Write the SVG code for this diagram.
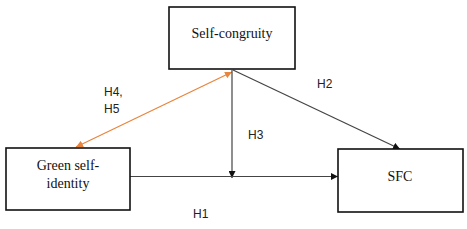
<svg xmlns="http://www.w3.org/2000/svg" width="467" height="229" viewBox="0 0 467 229">
<style>
.box{fill:#fff;stroke:#111;stroke-width:1.6}
.t{font-family:"Liberation Serif",serif;font-size:14px;fill:#111;text-anchor:middle}
.l{font-family:"Liberation Sans",sans-serif;font-size:12px;fill:#222}
.c{fill:none;stroke:#444;stroke-width:1.2}
.o{fill:none;stroke:#e8843c;stroke-width:1.2}
</style>
<defs>
<marker id="ah" viewBox="0 0 10 10" refX="10" refY="5" markerWidth="7" markerHeight="7" orient="auto-start-reverse" markerUnits="userSpaceOnUse"><path d="M0,0L10,5L0,10z" fill="#111"/></marker>
<marker id="ao" viewBox="0 0 10 10" refX="10" refY="5" markerWidth="7" markerHeight="7" orient="auto-start-reverse" markerUnits="userSpaceOnUse"><path d="M0,0L10,5L0,10z" fill="#e8843c"/></marker>
</defs>
<g id="connectors">
<line class="o" x1="232" y1="72" x2="76" y2="147" marker-start="url(#ao)" marker-end="url(#ao)"/>
<line class="c" x1="232" y1="70" x2="232" y2="178" marker-end="url(#ah)"/>
<line class="c" x1="130" y1="176.5" x2="338" y2="176.5" marker-end="url(#ah)"/>
<line class="c" x1="233" y1="70" x2="400" y2="149" marker-end="url(#ah)"/>
<text class="l" x="104" y="96">H4,</text>
<text class="l" x="104" y="113">H5</text>
<text class="l" x="317" y="88">H2</text>
<text class="l" x="248" y="139">H3</text>
<text class="l" x="193" y="218">H1</text>
</g>
<g id="self-congruity">
<rect class="box" x="169" y="7" width="126" height="62"/>
<text class="t" x="232" y="38">Self-congruity</text>
</g>
<g id="green-self-identity">
<rect class="box" x="6" y="148" width="124" height="62"/>
<text class="t" x="68" y="170">Green self-</text>
<text class="t" x="68" y="188">identity</text>
</g>
<g id="sfc">
<rect class="box" x="338" y="149" width="125" height="63"/>
<text class="t" x="400" y="181">SFC</text>
</g>
</svg>
